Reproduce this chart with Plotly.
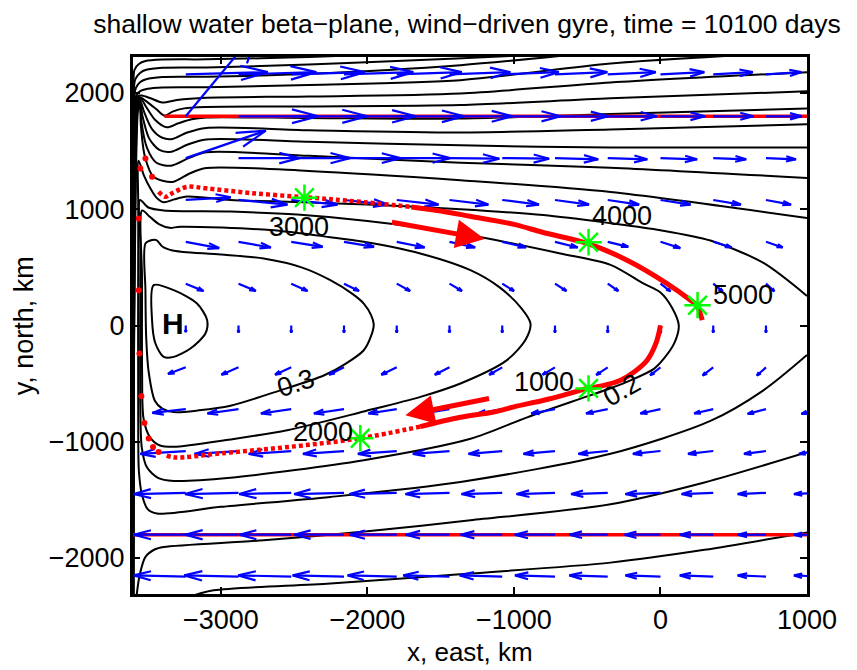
import plotly.graph_objects as go

FONT = "Liberation Sans, Arial, sans-serif"

# ---------------- axes ----------------
X_RANGE = [-3600, 1000]
Y_RANGE = [-2310, 2310]
X_TICKS = [-3000, -2000, -1000, 0, 1000]
Y_TICKS = [-2000, -1000, 0, 1000, 2000]

TITLE = "shallow water beta\u2212plane, wind\u2212driven gyre, time = 10100 days"
X_LABEL = "x, east, km"
Y_LABEL = "y, north, km"

# ---------------- contour lines (km) ----------------
cH_x = [-3459, -3322, -3163, -3094, -3106, -3208, -3322, -3390, -3447, -3470, -3459]
cH_y = [347, 304, 189, 46, -69, -198, -270, -270, -155, 46, 347]

c30_x = [-3515, -3470, -3440, -3400, -3330, -3254, -3000, -2708, -2450, -2253, -2100, -2025, -1975, -1957,
         -1975, -2025, -2150, -2298, -2600, -2935, -3150, -3322, -3400, -3450, -3493, -3510, -3515, -3515]
c30_y = [705, 735, 735, 680, 645, 633, 610, 576, 500, 390, 270, 189, 90, 10,
         -90, -213, -330, -430, -560, -690, -730, -745, -715, -650, -400, -100, 300, 705]

c25_x = [-3538, -3485, -3420, -3350, -3277, -2662, -2253, -2025, -1640, -1297, -1100, -950, -887, -920,
         -1050, -1365, -1638, -2025, -2548, -2935, -3322, -3420, -3485, -3528, -3538, -3538, -3538]
c25_y = [990, 935, 870, 840, 850, 821, 760, 720, 620, 476, 330, 150, 17, -120,
         -300, -499, -614, -740, -901, -980, -1044, -1030, -960, -800, -400, 400, 990]

c20_x = [-3552, -3495, -3390, -2935, -2480, -2000, -1365, -683, -341, -114, 0, 80, 125, 95, 20, -45,
         -200, -341, -500, -910, -1297, -2025, -2935, -3322, -3430, -3505, -3540, -3550, -3550, -3552]
c20_y = [1080, 1015, 990, 980, 955, 900, 791, 620, 522, 360, 284, 150, 0, -150, -290, -373,
         -470, -540, -610, -790, -975, -1159, -1310, -1337, -1310, -1220, -1050, -700, 700, 1080]

c15_x = [1000, 700, 341, 0, -341, -800, -1365, -2000, -2435, -2935, -3231, -3320, -3390, -3440, -3481,
         -3525, -3562, -3564, -3564, -3560, -3540, -3500, -3436, -3000, -2253, -1365, -341, 341, 700, 1000]
c15_y = [254, 540, 731, 820, 880, 950, 1000, 1040, 1060, 1080, 1110, 1085, 1060, 1100, 1179,
         1290, 1418, 1000, -1000, -1250, -1450, -1580, -1618, -1560, -1475, -1346, -1104, -821, -560, -254]

s1_x = [-3575, -3555, -3515, -3450, -3390, -2708, -2000, -1297, -341, 300, 1000]
s1_y = [-2320, -2150, -1991, -1925, -1905, -1848, -1770, -1676, -1537, -1350, -1090]

s2_x = [-3180, -3049, -2253, -1297, -341, 300, 1000]
s2_y = [-2320, -2278, -2220, -2134, -2040, -1930, -1780]

n02_x = [-3599, -3598, -3597, -3590, -3560, -3515, -3400, -3100, -2400, -1800, -1000]
n02_y = [-2310, -1200, 2100, 2200, 2250, 2275, 2288, 2290, 2310, 2340, 2390]
n03_x = [-3599, -3598, -3594, -3584, -3550, -3510, -3400, -3100, -2400, -1800, -1000, -300]
n03_y = [-2310, -1200, 2040, 2120, 2175, 2200, 2217, 2220, 2245, 2275, 2320, 2380]
n04_x = [-3599, -3598, -3591, -3580, -3550, -3510, -3400, -3100, -2400, -1365, -600]
n04_y = [-2310, -1200, 1980, 2045, 2095, 2118, 2137, 2140, 2165, 2240, 2330]
n05_x = [-3599, -3598, -3588, -3576, -3545, -3500, -3400, -3100, -2400, -1365, -341, 600]
n05_y = [-2310, -1200, 1930, 1985, 2020, 2037, 2048, 2050, 2070, 2111, 2254, 2330]
n06_x = [-3599, -3598, -3585, -3572, -3540, -3480, -3400, -3300, -3100, -2400, -1365, -341, 1000]
n06_y = [-2310, -1200, 1900, 1975, 1978, 1955, 1918, 1940, 1960, 1970, 1996, 2090, 2179]
n07_x = [-3599, -3598, -3582, -3569, -3545, -3500, -3440, -3385, -3330, -3250, -3100, -2400, -1365, -341, 1000]
n07_y = [-2310, -1200, 1890, 1968, 1960, 1920, 1860, 1805, 1840, 1868, 1880, 1885, 1896, 1955, 2015]
n08_x = [-3599, -3598, -3579, -3566, -3545, -3510, -3450, -3370, -3290, -3200, -3100, -2400, -1365, -341, 1000]
n08_y = [-2310, -1200, 1880, 1960, 1950, 1880, 1770, 1705, 1740, 1775, 1790, 1785, 1780, 1820, 1866]
n09_x = [-3599, -3598, -3576, -3563, -3548, -3525, -3470, -3400, -3330, -3230, -3100, -2400, -1365, -341, 1000]
n09_y = [-2310, -1200, 1870, 1952, 1930, 1840, 1690, 1615, 1605, 1660, 1700, 1680, 1660, 1687, 1731]
n10_x = [-3599, -3598, -3573, -3560, -3548, -3535, -3490, -3420, -3340, -3230, -3100, -2400, -1365, -341, 1000]
n10_y = [-2310, -1200, 1860, 1942, 1900, 1800, 1610, 1510, 1495, 1555, 1600, 1580, 1550, 1531, 1531]
n11_x = [-3599, -3598, -3570, -3557, -3549, -3543, -3505, -3440, -3340, -3220, -3100, -2400, -1365, -341, 1000]
n11_y = [-2310, -1200, 1850, 1930, 1880, 1760, 1530, 1400, 1375, 1440, 1490, 1460, 1400, 1358, 1269]
n12_x = [-3599, -3598, -3567, -3555, -3550, -3546, -3518, -3460, -3330, -3210, -3100, -2400, -1365, -341, 1000]
n12_y = [-2310, -1200, 1840, 1912, 1860, 1720, 1450, 1280, 1235, 1310, 1355, 1330, 1250, 1149, 925]

CONTOURS = [(cH_x, cH_y), (c30_x, c30_y), (c25_x, c25_y), (c20_x, c20_y), (c15_x, c15_y),
            (s1_x, s1_y), (s2_x, s2_y), (n02_x, n02_y), (n03_x, n03_y), (n04_x, n04_y),
            (n05_x, n05_y), (n06_x, n06_y), (n07_x, n07_y), (n08_x, n08_y), (n09_x, n09_y),
            (n10_x, n10_y), (n11_x, n11_y), (n12_x, n12_y)]

# contour labels
clab_text = ["0.3", "0.2", "H"]
clab_x = [-2487, -262, -3328]
clab_y = [-497, -557, 20]
clab_angle = [-18, -30, 0]

# ---------------- velocity arrows (km, as drawn) ----------------
QX = [-3600, -3240, -2880, -2520, -2160, -1800, -1440, -1080, -720, -360, 0, 360, 720, 1080]
QY = [2160, 1800, 1440, 1080, 720, 360, 0, -360, -720, -1080, -1440, -1800, -2160]
QU = [
    [0, 560, 531, 502, 473, 444, 415, 386, 357, 328, 299, 270, 241, 212],
    [0, 500, 545, 520, 490, 460, 430, 400, 365, 335, 305, 275, 245, 215],
    [0, 546, 415, 400, 385, 365, 340, 320, 295, 270, 250, 225, 205, 185],
    [0, 307, 334, 315, 300, 285, 265, 250, 232, 214, 205, 189, 171, 155],
    [0, 228, 221, 214, 205, 190, 175, 162, 155, 140, 135, 125, 114, 105],
    [0, 121, 118, 111, 102, 91, 85, 80, 78, 72, 68, 64, 57, 52],
    [0, 0, 0, 0, 0, 0, 0, 0, 0, 0, 0, 0, 0, 0],
    [0, -121, -116, -110, -102, -105, -100, -89, -84, -78, -70, -72, -62, -58],
    [0, -228, -212, -207, -205, -193, -180, -168, -162, -148, -137, -130, -125, -118],
    [0, -310, -300, -290, -280, -265, -250, -230, -215, -200, -188, -172, -150, -135],
    [0, -355, -365, -355, -340, -323, -300, -278, -262, -250, -239, -216, -193, -169],
    [0, -355, -365, -355, -340, -323, -300, -284, -275, -262, -245, -228, -193, -169],
    [0, -355, -370, -362, -350, -335, -315, -290, -273, -262, -239, -228, -193, -169],
]
QV = [
    [0, 20, 20, 20, 20, 20, 20, 20, 20, 20, 20, 20, 20, 20],
    [0, 760, 0, 0, 0, 0, 0, 0, 0, 0, 0, 0, 0, 0],
    [0, 236, 0, 0, 0, 0, -5, -5, -10, -10, -10, -10, -10, -10],
    [0, 23, -40, -40, -40, -40, -40, -40, -40, -40, -40, -40, -40, -40],
    [0, -54, -49, -43, -43, -49, -49, -49, -49, -43, -54, -49, -49, -49],
    [0, -63, -63, -63, -63, -63, -63, -63, -63, -63, -66, -66, -66, -66],
    [0, -57, -60, -60, -60, -60, -60, -60, -60, -60, -66, -60, -60, -60],
    [0, -57, -63, -63, -63, -63, -63, -63, -63, -65, -68, -70, -70, -70],
    [0, -32, -37, -37, -37, -37, -37, -37, -37, -37, -37, -37, -40, -40],
    [0, -25, -25, -25, -25, -25, -25, -25, -25, -25, -25, -25, -25, -25],
    [0, -10, -10, -10, -10, -10, -10, -10, -10, -10, -10, -10, -10, -10],
    [0, 0, 0, 0, 0, 0, 0, 0, 0, 0, 0, 0, 0, 0],
    [0, 10, 10, 10, 10, 10, 10, 10, 10, 10, 10, 10, 10, 10],
]

# ---------------- particle trajectory ----------------
traj_s_solid_x = [0, -30, -91, -180, -273, -400, -500, -650, -797, -1000, -1138, -1365, -1640]
traj_s_solid_y = [0, -150, -299, -400, -471, -520, -542, -595, -643, -700, -744, -790, -870]
traj_s_dot_x = [-1640, -2049, -2500, -3000, -3311, -3380]
traj_s_dot_y = [-870, -970, -1040, -1100, -1135, -1115]
traj_sparse_x = [-3425, -3463, -3493, -3522, -3543, -3556, -3561, -3561, -3550, -3515, -3470]
traj_sparse_y = [-1088, -1045, -972, -838, -608, -241, 304, 921, 1351, 1437, 1279]
traj_n_dot_x = [-3425, -3380, -3345, -3299, -3231, -3100, -2800, -2430, -2100, -1700]
traj_n_dot_y = [1150, 1107, 1130, 1160, 1193, 1180, 1140, 1104, 1070, 1020]
traj_n_solid_x = [-1700, -1500, -1300, -1000, -800, -500, -228, 45, 205, 246, 285]
traj_n_solid_y = [1020, 985, 940, 870, 800, 706, 562, 361, 218, 175, 46]

red_line_y = [1800, -1800]
red_line_x0 = [-3385, -3600]
red_line_x1 = [1000, 1000]

star_x = [-491, -2049, -2430, -491, 253]
star_y = [-541, -970, 1100, 716, 175]
day_text = ["1000", "2000", "3000", "4000", "5000"]
day_x = [-797, -2300, -2468, -262, 560]
day_y = [-490, -914, 847, 939, 265]

red_arrow_tail_x = [-1843, -1160]
red_arrow_tail_y = [890, -626]
red_arrow_head_x = [-1200, -1741]
red_arrow_head_y = [745, -772]

# ---------------- build figure ----------------
fig = go.Figure()

for cx, cy in CONTOURS:
    fig.add_trace(go.Scatter(x=cx, y=cy, mode="lines",
                             line=dict(color="black", width=2, shape="spline", smoothing=0.8),
                             hoverinfo="skip"))

for yy, xa, xb in zip(red_line_y, red_line_x0, red_line_x1):
    fig.add_trace(go.Scatter(x=[xa, xb], y=[yy, yy], mode="lines",
                             line=dict(color="red", width=3.5), hoverinfo="skip"))


def quiver_paths(xs, ys, us, vs, alpha=0.33, beta=0.33):
    px, py = [], []
    for j, y0 in enumerate(ys):
        for i, x0 in enumerate(xs):
            u, v = us[j][i], vs[j][i]
            if u == 0 and v == 0:
                continue
            x1, y1 = x0 + u, y0 + v
            px += [x0, x1, None,
                   x1 - alpha * (u + beta * v), x1, x1 - alpha * (u - beta * v), None]
            py += [y0, y1, None,
                   y1 - alpha * (v - beta * u), y1, y1 - alpha * (v + beta * u), None]
    return px, py


qx, qy = quiver_paths(QX, QY, QU, QV)
fig.add_trace(go.Scatter(x=qx, y=qy, mode="lines", line=dict(color="#0000ff", width=2.2),
                         hoverinfo="skip"))

fig.add_trace(go.Scatter(x=traj_s_solid_x, y=traj_s_solid_y, mode="lines",
                         line=dict(color="red", width=5, shape="spline"), hoverinfo="skip"))
fig.add_trace(go.Scatter(x=traj_n_solid_x, y=traj_n_solid_y, mode="lines",
                         line=dict(color="red", width=5, shape="spline"), hoverinfo="skip"))
fig.add_trace(go.Scatter(x=traj_s_dot_x, y=traj_s_dot_y, mode="lines",
                         line=dict(color="red", width=4.5, dash="4px,3px", shape="spline"),
                         hoverinfo="skip"))
fig.add_trace(go.Scatter(x=traj_n_dot_x, y=traj_n_dot_y, mode="lines",
                         line=dict(color="red", width=4.5, dash="4px,3px", shape="spline"),
                         hoverinfo="skip"))
fig.add_trace(go.Scatter(x=traj_sparse_x, y=traj_sparse_y, mode="markers",
                         marker=dict(color="red", size=6), hoverinfo="skip"))
fig.add_trace(go.Scatter(x=star_x, y=star_y, mode="markers",
                         marker=dict(symbol="asterisk-open", size=22, color="#00ff00",
                                     line=dict(color="#00ff00", width=2.5)),
                         hoverinfo="skip"))

TXT = 27
ann = []
for t, x, y in zip(day_text, day_x, day_y):
    ann.append(dict(x=x, y=y, xref="x", yref="y", text=t, showarrow=False,
                    font=dict(family=FONT, size=TXT, color="black")))
for t, x, y, a in zip(clab_text, clab_x, clab_y, clab_angle):
    txt = "<b>H</b>" if t == "H" else t
    ann.append(dict(x=x, y=y, xref="x", yref="y", text=txt, showarrow=False, textangle=a,
                    font=dict(family=FONT, size=30 if t == "H" else TXT, color="black")))
for tx, ty, hx, hy in zip(red_arrow_tail_x, red_arrow_tail_y, red_arrow_head_x, red_arrow_head_y):
    ann.append(dict(x=hx, y=hy, ax=tx, ay=ty, xref="x", yref="y", axref="x", ayref="y",
                    text="", showarrow=True, arrowhead=2, arrowsize=1.15, arrowwidth=5,
                    arrowcolor="red", standoff=0, startstandoff=0))
ann.append(dict(x=0.5, y=-0.108, xref="paper", yref="paper", text=X_LABEL, showarrow=False,
                yanchor="middle", font=dict(family=FONT, size=26, color="black")))
ann.append(dict(x=-0.162, y=0.5, xref="paper", yref="paper", text=Y_LABEL, showarrow=False,
                textangle=-90, xanchor="center", yanchor="middle",
                font=dict(family=FONT, size=27, color="black")))

axis_common = dict(showgrid=False, zeroline=False, ticks="inside", ticklen=7, tickwidth=2,
                   tickcolor="black", showline=True, linewidth=3, linecolor="black",
                   mirror="ticks", tickfont=dict(family=FONT, size=TXT, color="black"))

# the page body adds an 8 px offset; the figure is sized so the plot lands in place
FIG_W, FIG_H = 849, 662
fig.update_layout(
    width=FIG_W, height=FIG_H,
    margin=dict(l=124.5, r=50, t=48.5, b=76),
    plot_bgcolor="white", paper_bgcolor="white",
    showlegend=False,
    title=dict(text=TITLE, x=0.4955, xref="paper", xanchor="center",
               y=1 - 15.5 / FIG_H, yref="container", yanchor="middle",
               font=dict(family=FONT, size=26.5, color="black")),
    xaxis=dict(range=X_RANGE, tickvals=X_TICKS, **axis_common),
    yaxis=dict(range=Y_RANGE, tickvals=Y_TICKS, **axis_common),
    annotations=ann,
)

fig.write_html("out.html")
